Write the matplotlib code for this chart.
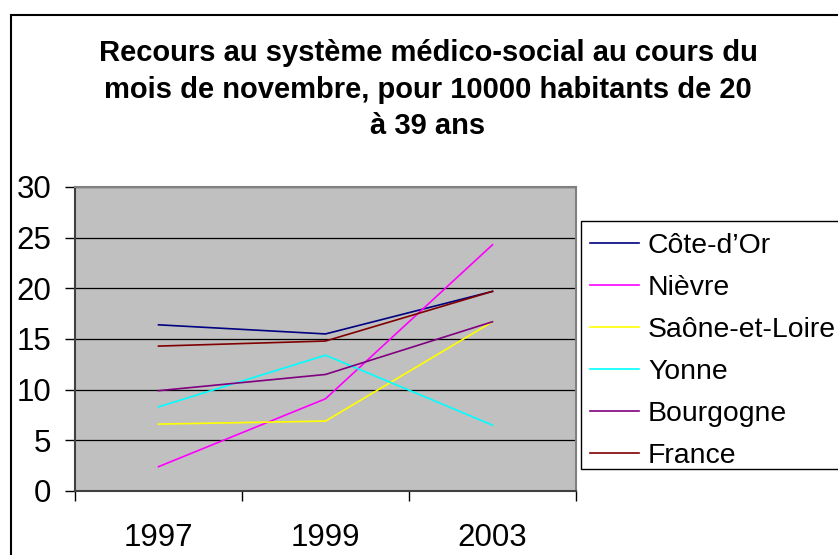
import matplotlib
matplotlib.use('Agg')
import matplotlib.pyplot as plt
from matplotlib.patches import Rectangle

plt.rcParams['font.family'] = ['Liberation Sans', 'DejaVu Sans']

years = ['1997', '1999', '2003']
series_names = ['Côte-d\u2019Or', 'Nièvre', 'Saône-et-Loire', 'Yonne', 'Bourgogne', 'France']
cote_dor = [16.4, 15.5, 19.7]
nievre = [2.4, 9.1, 24.3]
saone_et_loire = [6.6, 6.9, 16.7]
yonne = [8.3, 13.4, 6.5]
bourgogne = [9.9, 11.5, 16.7]
france = [14.3, 14.8, 19.7]
colors = ['#000080', '#FF00FF', '#FFFF00', '#00FFFF', '#800080', '#800000']

title = ('Recours au système médico-social au cours du\n'
         'mois de novembre, pour 10000 habitants de 20\n'
         'à 39 ans')


def main():
    W, H = 838, 555
    fig = plt.figure(figsize=(W / 100, H / 100), dpi=100)
    fig.patch.set_facecolor('white')

    # outer chart frame (right and bottom edges fall outside the image)
    fig.patches.append(Rectangle((11 / W, -0.1), 1.0, (H - 15) / H + 0.1,
                                 transform=fig.transFigure, fill=False,
                                 edgecolor='black', lw=1.5))

    ax = fig.add_axes([75 / W, (H - 491) / H, (576 - 75) / W, (491 - 187) / H])
    ax.set_facecolor('#C0C0C0')

    x = list(range(len(years)))
    all_series = [cote_dor, nievre, saone_et_loire, yonne, bourgogne, france]
    for vals, name, c in zip(all_series, series_names, colors):
        ax.plot(x, vals, color=c, lw=1.2, label=name)

    ax.set_xlim(-0.5, 2.5)
    ax.set_ylim(0, 30)
    ax.set_yticks(range(0, 31, 5))
    ax.yaxis.grid(True, color='black', lw=0.9)
    ax.set_axisbelow(True)
    ax.tick_params(axis='y', direction='out', length=7, width=1,
                   labelsize=22.5, pad=10)

    ax.set_xticks([-0.5, 0.5, 1.5, 2.5])
    ax.set_xticklabels([])
    ax.set_xticks(x, minor=True)
    ax.set_xticklabels(years, minor=True)
    ax.tick_params(axis='x', which='major', direction='out', length=7, width=1)
    ax.tick_params(axis='x', which='minor', length=0, labelsize=22.5, pad=23)

    for side in ['top', 'right']:
        ax.spines[side].set_color('#808080')
        ax.spines[side].set_linewidth(1.5)
    for side in ['left', 'bottom']:
        ax.spines[side].set_color('#404040')
        ax.spines[side].set_linewidth(1.5)

    fig.text(428 / W, 1 - 89.5 / H, title, ha='center', va='center',
             fontsize=21, fontweight='bold', linespacing=1.4)

    # legend box (right edge runs off the image)
    fig.patches.append(Rectangle((580.7 / W, 1 - 469 / H), 0.5, (469 - 220.7) / H,
                                 transform=fig.transFigure, facecolor='white',
                                 edgecolor='black', lw=1.0))
    fig.legend(loc='upper left', bbox_to_anchor=(578 / W, 1 - 220.7 / H),
               fontsize=20.4, frameon=False,
               handlelength=1.75, handletextpad=0.3, borderpad=0.42,
               labelspacing=0.57, borderaxespad=0)

    fig.savefig('out.png', dpi=100)


if __name__ == '__main__':
    main()
